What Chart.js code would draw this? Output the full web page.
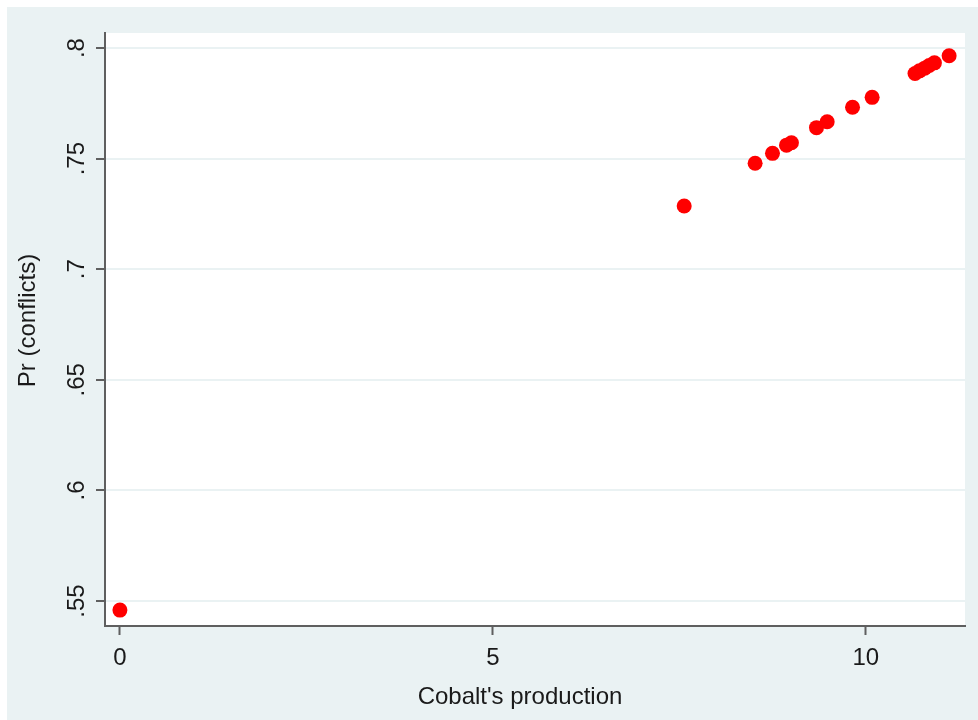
<!DOCTYPE html>
<html>
<head>
<meta charset="utf-8">
<script src="https://cdn.jsdelivr.net/npm/chart.js@4.4.1/dist/chart.umd.min.js"></script>
<style>
  html, body { margin: 0; padding: 0; background: #ffffff; }
  #frame {
    position: absolute; left: 7px; top: 7px;
    width: 971px; height: 713px;
    background: #EAF2F3;
  }
  canvas { display: block; }
</style>
</head>
<body>
<div id="frame"><canvas id="chart" width="971" height="713"></canvas></div>
<script>
// Cobalt production vs predicted probability of conflict
const cobaltProduction = [0, 7.565, 8.516, 8.749, 8.937, 9.003, 9.339, 9.482, 9.822, 10.085,
  10.66, 10.72, 10.79, 10.85, 10.92, 11.117];
const conflictProbability = [0.5459, 0.7286, 0.7479, 0.7524, 0.7561, 0.7572, 0.764, 0.7667, 0.7732, 0.7777,
  0.7885, 0.7897, 0.7909, 0.7921, 0.7933, 0.7965];
const xTickValues = [0, 5, 10];
const yTickValues = [0.55, 0.6, 0.65, 0.7, 0.75, 0.8];
const xAxisTitle = "Cobalt's production";
const yAxisTitle = 'Pr (conflicts)';

const points = cobaltProduction.map((x, i) => ({ x: x, y: conflictProbability[i] }));

const textColor = '#1a1a1a';
const axisColor = '#5f5f5f';
const gridColor = '#EAF2F3';
const fontFamily = '"Liberation Sans", Arial, sans-serif';

// white plot region behind the data
const plotBackground = {
  id: 'plotBackground',
  beforeDraw(chart) {
    const { ctx, chartArea: a } = chart;
    ctx.save();
    ctx.fillStyle = '#ffffff';
    ctx.fillRect(a.left, a.top, a.right - a.left, a.bottom - a.top);
    ctx.restore();
  }
};

// axis titles, set slightly off the plot centre (Stata-style placement)
const axisTitles = {
  id: 'axisTitles',
  afterDraw(chart) {
    const { ctx, chartArea: a } = chart;
    ctx.save();
    ctx.fillStyle = textColor;
    ctx.font = '24px ' + fontFamily;
    ctx.textAlign = 'center';
    ctx.textBaseline = 'middle';
    ctx.fillText(xAxisTitle, (a.left + a.right) / 2 - 15, chart.height - 23);
    ctx.translate(21, (a.top + a.bottom) / 2 - 9);
    ctx.rotate(-Math.PI / 2);
    ctx.fillText(yAxisTitle, 0, 0);
    ctx.restore();
  }
};

new Chart(document.getElementById('chart'), {
  type: 'scatter',
  data: {
    datasets: [{
      data: points,
      backgroundColor: '#ff0000',
      borderWidth: 0,
      pointRadius: 7.5,
      pointHoverRadius: 7.5
    }]
  },
  options: {
    responsive: false,
    animation: false,
    layout: { padding: { left: 0, top: 26, right: 13, bottom: 0 } },
    plugins: { legend: { display: false }, tooltip: { enabled: false } },
    scales: {
      x: {
        type: 'linear',
        min: -0.2,
        max: 11.33,
        afterBuildTicks: s => { s.ticks = xTickValues.map(v => ({ value: v })); },
        afterFit: s => { s.height = 94; },
        grid: { drawOnChartArea: false, tickLength: 9, tickColor: axisColor, tickWidth: 2 },
        border: { color: axisColor, width: 2 },
        ticks: { color: textColor, font: { family: fontFamily, size: 24 }, padding: 9, maxRotation: 0,
                 callback: v => String(v) }
      },
      y: {
        type: 'linear',
        min: 0.5387,
        max: 0.8068,
        afterBuildTicks: s => { s.ticks = yTickValues.map(v => ({ value: v })); },
        afterFit: s => { s.width = 98; },
        grid: { color: gridColor, lineWidth: 2, tickLength: 9, tickColor: axisColor, tickWidth: 2 },
        border: { color: axisColor, width: 2 },
        ticks: { color: textColor, font: { family: fontFamily, size: 24 }, padding: 2,
                 crossAlign: 'center', minRotation: 90, maxRotation: 90,
                 callback: v => String(+v.toFixed(2)).replace(/^0\./, '.') }
      }
    }
  },
  plugins: [plotBackground, axisTitles]
});
</script>
</body>
</html>
